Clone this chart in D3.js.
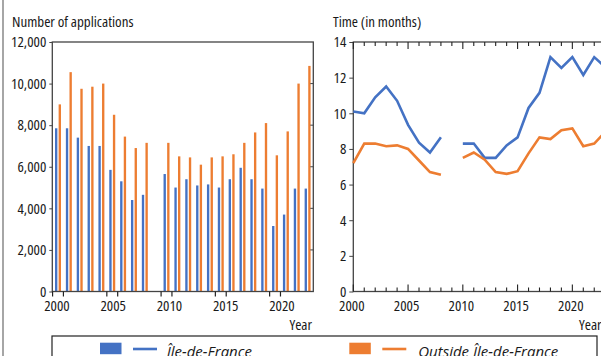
<!DOCTYPE html>
<html>
<head>
<meta charset="utf-8">
<script src="https://cdn.jsdelivr.net/npm/d3@7"></script>
<style>
body { margin: 0; background: #fff; }
text { font-family: "Open Sans", sans-serif; font-stretch: 78%; font-size: 15px; fill: #1a1a1a; }
text.title { font-stretch: 80%; }
text.legend { font-stretch: 90%; font-size: 15px; font-style: italic; }
</style>
</head>
<body>
<svg id="drawing_region"></svg>
<script>
// chart values
const years = [2000, 2001, 2002, 2003, 2004, 2005, 2006, 2007, 2008, 2009, 2010, 2011,
               2012, 2013, 2014, 2015, 2016, 2017, 2018, 2019, 2020, 2021, 2022, 2023];
const ileApplications = [7850, 7850, 7400, 7000, 7000, 5850, 5300, 4400, 4650, null, 5650, 5000,
                         5400, 5100, 5150, 5000, 5400, 5950, 5400, 4950, 3150, 3700, 4950, 4950];
const outsideApplications = [9000, 10550, 9750, 9850, 10000, 8500, 7450, 6900, 7150, null, 7150, 6500,
                             6450, 6100, 6450, 6500, 6600, 7150, 7650, 8100, 6550, 7700, 10000, 10850];
const ileMonths = [10.1, 10.0, 10.9, 11.5, 10.7, 9.35, 8.35, 7.8, 8.65, null, 8.3, 8.3,
                   7.5, 7.5, 8.2, 8.65, 10.3, 11.15, 13.15, 12.55, 13.15, 12.15, 13.15, 12.6];
const outsideMonths = [7.2, 8.3, 8.3, 8.15, 8.2, 8.0, 7.35, 6.7, 6.55, null, 7.5, 7.8,
                       7.4, 6.7, 6.6, 6.75, 7.75, 8.65, 8.55, 9.05, 9.15, 8.15, 8.3, 8.95];
const labelYears = [2000, 2005, 2010, 2015, 2020];
const applicationTicks = [0, 2000, 4000, 6000, 8000, 10000, 12000];
const monthTicks = [0, 2, 4, 6, 8, 10, 12, 14];
const seriesNames = ["Île-de-France", "Outside Île-de-France"];

const blue = "#4472c4";
const orange = "#ed7d31";
const frameColor = "#444";

const svg = d3.select("#drawing_region")
    .attr("width", 601)
    .attr("height", 356);

// page border on the left
svg.append("line")
    .attr("x1", 3).attr("x2", 3).attr("y1", 0).attr("y2", 356)
    .attr("stroke", "#888").attr("stroke-width", 1.5);

const plotTop = 42, plotBottom = 291.5;

// ---------- left: number of applications ----------
const left = { x0: 52.3, x1: 313.3 };

const xband = d3.scaleBand()
    .domain(years)
    .range([left.x0, left.x1])
    .paddingInner(0.45)
    .paddingOuter(0.25);

const xsub = d3.scaleBand()
    .domain([0, 1])
    .range([0, xband.bandwidth()])
    .paddingInner(0.35);

const xlabel = d3.scaleLinear()
    .domain([2000, 2020])
    .range([57, 282]);

const yapp = d3.scaleLinear()
    .domain([0, 12000])
    .range([plotBottom, plotTop]);

const barData = [];
years.forEach((yr, i) => {
    if (ileApplications[i] != null) barData.push({ year: yr, s: 0, v: ileApplications[i] });
    if (outsideApplications[i] != null) barData.push({ year: yr, s: 1, v: outsideApplications[i] });
});

const leftChart = svg.append("g");

leftChart.selectAll("rect.bar")
    .data(barData)
    .join("rect")
    .attr("class", "bar")
    .attr("x", d => xband(d.year) + xsub(d.s))
    .attr("y", d => yapp(d.v))
    .attr("width", xsub.bandwidth())
    .attr("height", d => yapp(0) - yapp(d.v))
    .attr("fill", d => d.s === 0 ? blue : orange);

leftChart.append("rect")
    .attr("x", left.x0).attr("y", plotTop)
    .attr("width", left.x1 - left.x0).attr("height", plotBottom - plotTop)
    .attr("fill", "none").attr("stroke", frameColor).attr("stroke-width", 1.3);

// y axis (outer ticks left, inner ticks right)
const yaxisLeft = d3.axisLeft(yapp)
    .tickValues(applicationTicks)
    .tickFormat(d3.format(","))
    .tickSize(3).tickSizeOuter(0).tickPadding(3);
const yg = leftChart.append("g")
    .attr("transform", `translate(${left.x0},0)`)
    .call(yaxisLeft);
yg.select(".domain").remove();
yg.selectAll("line").attr("stroke", frameColor);
yg.selectAll("text").attr("font-size", null).attr("fill", "#1a1a1a").attr("font-family", null);

leftChart.selectAll("line.rtick")
    .data(applicationTicks.slice(1, -1))
    .join("line")
    .attr("class", "rtick")
    .attr("x1", left.x1 - 3).attr("x2", left.x1)
    .attr("y1", d => yapp(d)).attr("y2", d => yapp(d))
    .attr("stroke", frameColor);

// x ticks at the edges of each labelled year
const half = xband.step() * xband.paddingInner() / 2;
const edgeTicks = [];
labelYears.forEach(yr => {
    edgeTicks.push(xband(yr) - half);
    edgeTicks.push(xband(yr) + xband.bandwidth() + half);
});
leftChart.selectAll("line.xtick")
    .data(edgeTicks)
    .join("line")
    .attr("class", "xtick")
    .attr("x1", d => d).attr("x2", d => d)
    .attr("y1", plotBottom).attr("y2", plotBottom + 5)
    .attr("stroke", "#222").attr("stroke-width", 1.2);

leftChart.selectAll("text.xlab")
    .data(labelYears)
    .join("text")
    .attr("class", "xlab")
    .attr("x", d => xlabel(d))
    .attr("y", 311)
    .attr("text-anchor", "middle")
    .text(d => d);

leftChart.append("text")
    .attr("x", 312).attr("y", 330)
    .attr("text-anchor", "end")
    .text("Year");

leftChart.append("text")
    .attr("class", "title")
    .attr("x", 12).attr("y", 27)
    .text("Number of applications");

// ---------- right: time in months ----------
const right = { x0: 353.3, x1: 605.2 };

const xyear = d3.scaleLinear()
    .domain([2000, 2023])
    .range([right.x0, right.x1]);

const ymonth = d3.scaleLinear()
    .domain([0, 14])
    .range([plotBottom, plotTop]);

const rightChart = svg.append("g");

rightChart.append("rect")
    .attr("x", right.x0).attr("y", plotTop)
    .attr("width", right.x1 - right.x0).attr("height", plotBottom - plotTop)
    .attr("fill", "none").attr("stroke", frameColor).attr("stroke-width", 1.3);

const yaxisRight = d3.axisLeft(ymonth)
    .tickValues(monthTicks)
    .tickSize(4).tickSizeOuter(0).tickPadding(3);
const yg2 = rightChart.append("g")
    .attr("transform", `translate(${right.x0},0)`)
    .call(yaxisRight);
yg2.select(".domain").remove();
yg2.selectAll("line").attr("stroke", frameColor);
yg2.selectAll("text").attr("font-size", null).attr("fill", "#1a1a1a").attr("font-family", null);

rightChart.selectAll("line.rtick")
    .data(monthTicks.slice(1, -1))
    .join("line")
    .attr("class", "rtick")
    .attr("x1", right.x1 - 4).attr("x2", right.x1)
    .attr("y1", d => ymonth(d)).attr("y2", d => ymonth(d))
    .attr("stroke", frameColor);

// year ticks on top and bottom, pointing inward
const tickLen = yr => labelYears.includes(yr) ? 7 : 4;
rightChart.selectAll("line.btick")
    .data(years)
    .join("line")
    .attr("class", "btick")
    .attr("x1", d => xyear(d)).attr("x2", d => xyear(d))
    .attr("y1", plotBottom).attr("y2", d => plotBottom - tickLen(d))
    .attr("stroke", "#222").attr("stroke-width", 1.1);
rightChart.selectAll("line.ttick")
    .data(years)
    .join("line")
    .attr("class", "ttick")
    .attr("x1", d => xyear(d)).attr("x2", d => xyear(d))
    .attr("y1", plotTop).attr("y2", d => plotTop + tickLen(d))
    .attr("stroke", "#222").attr("stroke-width", 1.1);

rightChart.selectAll("text.xlab")
    .data(labelYears)
    .join("text")
    .attr("class", "xlab")
    .attr("x", d => xyear(d) - 1.5)
    .attr("y", 311)
    .attr("text-anchor", "middle")
    .text(d => d);

rightChart.append("text")
    .attr("x", 579).attr("y", 330)
    .text("Year");

rightChart.append("text")
    .attr("class", "title")
    .attr("x", 333).attr("y", 27)
    .text("Time (in months)");

const line = d3.line()
    .defined(d => d.v != null)
    .x(d => xyear(d.year))
    .y(d => ymonth(d.v));

[[ileMonths, blue], [outsideMonths, orange]].forEach(([vals, color]) => {
    rightChart.append("path")
        .datum(years.map((yr, i) => ({ year: yr, v: vals[i] })))
        .attr("d", line)
        .attr("fill", "none")
        .attr("stroke", color)
        .attr("stroke-width", 2.6)
        .attr("stroke-linejoin", "miter");
});

// ---------- legend ----------
const legend = svg.append("g");
legend.append("rect")
    .attr("x", 52).attr("y", 336)
    .attr("width", 545).attr("height", 40)
    .attr("fill", "none").attr("stroke", "#222").attr("stroke-width", 1.2);

const legendX = [100, 349.3];
seriesNames.forEach((name, i) => {
    const g = legend.append("g").attr("transform", `translate(${legendX[i]},0)`);
    g.append("rect")
        .attr("x", 0).attr("y", 342.7)
        .attr("width", 21.5).attr("height", 11.5)
        .attr("fill", i === 0 ? blue : orange);
    g.append("line")
        .attr("x1", 33).attr("x2", 57)
        .attr("y1", 349).attr("y2", 349)
        .attr("stroke", i === 0 ? blue : orange)
        .attr("stroke-width", 2.6);
    g.append("text")
        .attr("class", "legend")
        .attr("x", i === 0 ? 66.7 : 69)
        .attr("y", 357)
        .text(name);
});
</script>
</body>
</html>
